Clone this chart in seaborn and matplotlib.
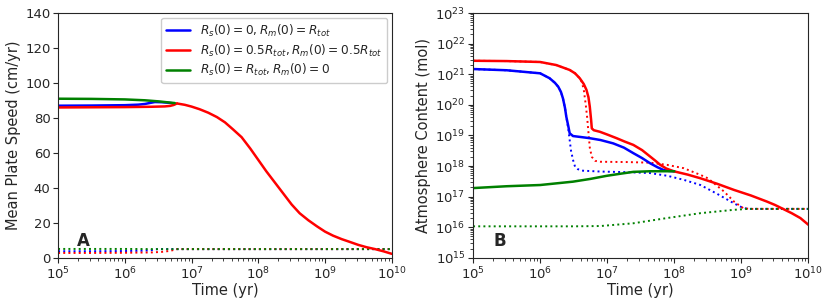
import matplotlib
matplotlib.use("Agg")
import matplotlib.pyplot as plt
import numpy as np
import pandas as pd
import seaborn as sns

# --- panel A: mean plate speed (cm/yr), log10(time) vs value ---
common_t = [6.78, 6.9, 7.0, 7.12, 7.25, 7.38, 7.5, 7.62, 7.75, 7.88, 8.0, 8.12, 8.25, 8.38,
            8.5, 8.62, 8.75, 8.88, 9.0, 9.12, 9.25, 9.38, 9.5, 9.62, 9.75, 9.88, 10.0]
common_v = [88.3, 87.5, 86.5, 85.0, 83.0, 80.5, 77.5, 73.5, 69.0, 62.5, 56.0, 49.5, 43.0, 36.5,
            30.5, 25.5, 21.5, 18.0, 15.0, 12.7, 10.7, 9.0, 7.4, 6.1, 5.0, 3.7, 2.3]

blue_speed_t = [5.0, 5.5, 6.0, 6.2, 6.3, 6.38, 6.45, 6.55, 6.65, 6.72]
blue_speed_v = [87.0, 87.1, 87.3, 87.6, 88.0, 88.6, 89.1, 89.0, 88.7, 88.4]
red_speed_t = [5.0, 5.5, 6.0, 6.4, 6.6, 6.68, 6.73, 6.76, 6.78]
red_speed_v = [86.0, 86.1, 86.2, 86.4, 86.6, 86.9, 87.4, 87.9, 88.3]
green_speed_t = [5.0, 5.5, 6.0, 6.3, 6.5, 6.65, 6.75]
green_speed_v = [91.0, 90.9, 90.6, 90.1, 89.5, 88.9, 88.5]

blue_dot_speed_t = [5.0, 5.5, 6.0, 6.3, 6.4, 6.45, 6.5, 10.0]
blue_dot_speed_v = [3.8, 3.8, 3.9, 4.1, 4.4, 4.8, 5.0, 5.0]
red_dot_speed_t = [5.0, 5.5, 6.0, 6.4, 6.55, 6.68, 6.78, 10.0]
red_dot_speed_v = [2.8, 2.8, 2.9, 3.1, 3.4, 4.0, 5.0, 5.0]
green_dot_speed_t = [5.0, 6.0, 6.5, 10.0]
green_dot_speed_v = [5.1, 5.1, 5.0, 5.0]

# --- panel B: atmosphere content, log10(time) vs log10(mol) ---
red_atm_t = [5.0, 5.5, 6.0, 6.24, 6.44, 6.52, 6.59, 6.65, 6.69, 6.72, 6.74, 6.76, 6.77, 6.8,
             6.89, 7.0, 7.14, 7.26, 7.39, 7.52, 7.64, 7.72, 7.79, 7.88, 7.99, 8.2, 8.39,
             8.64, 8.89, 9.14, 9.38, 9.5, 9.63, 9.75, 9.88, 10.0]
red_atm_v = [21.44, 21.43, 21.40, 21.30, 21.14, 21.03, 20.87, 20.68, 20.49, 20.25, 19.94, 19.5,
             19.23, 19.17, 19.12, 19.03, 18.91, 18.8, 18.69, 18.52, 18.31, 18.17, 18.04, 17.92,
             17.83, 17.72, 17.60, 17.42, 17.22, 17.04, 16.84, 16.73, 16.59, 16.46, 16.30, 16.08]
blue_atm_t = [5.0, 5.5, 6.0, 6.14, 6.22, 6.27, 6.31, 6.34, 6.37, 6.39, 6.42, 6.44, 6.49, 6.6,
              6.74, 6.9, 7.09, 7.25, 7.39, 7.52, 7.64, 7.75, 7.84, 7.92, 8.0]
blue_atm_v = [21.17, 21.13, 21.03, 20.87, 20.72, 20.59, 20.42, 20.21, 19.9, 19.61, 19.3, 19.07,
              18.98, 18.95, 18.91, 18.85, 18.74, 18.6, 18.42, 18.26, 18.09, 17.96, 17.87,
              17.84, 17.83]
green_atm_t = [5.0, 5.5, 6.0, 6.49, 6.75, 6.99, 7.2, 7.39, 7.64, 7.89, 8.0]
green_atm_v = [17.28, 17.34, 17.38, 17.49, 17.58, 17.68, 17.75, 17.81, 17.83, 17.83, 17.83]

blue_dot_atm_t = [5.0, 5.5, 6.0, 6.14, 6.22, 6.27, 6.31, 6.34, 6.37, 6.39, 6.42, 6.44, 6.46,
                  6.49, 6.52, 6.56, 6.62, 6.9, 7.3, 7.64, 7.9, 8.14, 8.39, 8.64, 8.89, 9.0,
                  9.09, 10.0]
blue_dot_atm_v = [21.17, 21.13, 21.03, 20.87, 20.72, 20.59, 20.42, 20.21, 19.9, 19.61, 19.2,
                  18.85, 18.5, 18.2, 17.98, 17.9, 17.85, 17.82, 17.8, 17.77, 17.68, 17.55,
                  17.38, 17.09, 16.78, 16.66, 16.6, 16.6]
red_dot_atm_t = [5.0, 5.5, 6.0, 6.24, 6.44, 6.52, 6.59, 6.62, 6.65, 6.68, 6.7, 6.72, 6.74,
                 6.77, 6.82, 6.9, 7.3, 7.64, 7.89, 8.14, 8.39, 8.5, 8.59, 8.74, 8.89, 9.03,
                 9.13, 10.0]
red_dot_atm_v = [21.44, 21.43, 21.40, 21.30, 21.14, 21.03, 20.87, 20.75, 20.5, 20.0, 19.6,
                 19.1, 18.6, 18.3, 18.17, 18.14, 18.13, 18.11, 18.04, 17.93, 17.71, 17.6,
                 17.44, 17.17, 16.84, 16.62, 16.6, 16.6]
green_dot_atm_t = [5.0, 6.0, 6.5, 6.9, 7.39, 7.89, 8.39, 8.89, 9.1, 10.0]
green_dot_atm_v = [16.03, 16.03, 16.03, 16.04, 16.13, 16.30, 16.46, 16.57, 16.6, 16.6]

labels = [r"$R_s(0)=0, R_m(0)=R_{tot}$",
          r"$R_s(0)=0.5R_{tot}, R_m(0)=0.5R_{tot}$",
          r"$R_s(0)=R_{tot}, R_m(0)=0$"]
colors = ["blue", "red", "green"]


def frame(t, v, log_y=False):
    t = np.asarray(t, dtype=float)
    v = np.asarray(v, dtype=float)
    return pd.DataFrame({"t": 10 ** t, "v": 10 ** v if log_y else v})


sns.set_style("ticks")
plt.rcParams["font.family"] = ["DejaVu Sans"]
plt.rcParams["mathtext.fontset"] = "dejavusans"

fig = plt.figure(figsize=(8.3, 3.03), dpi=100)
ax1 = fig.add_axes([0.070, 0.149, 0.402, 0.808])
ax2 = fig.add_axes([0.570, 0.149, 0.404, 0.808])

for ax in (ax1, ax2):
    ax.set_xscale("log")
ax2.set_yscale("log")

# panel A
speed_solid = [(blue_speed_t, blue_speed_v), (red_speed_t, red_speed_v), (green_speed_t, green_speed_v)]
speed_dot = [(blue_dot_speed_t, blue_dot_speed_v), (red_dot_speed_t, red_dot_speed_v),
             (green_dot_speed_t, green_dot_speed_v)]
for (t, v), c in zip(speed_dot, colors):
    sns.lineplot(data=frame(t, v), x="t", y="v", color=c, lw=1.4, ls=":", ax=ax1, sort=False)
for (t, v), c, lab in zip(speed_solid, colors, labels):
    sns.lineplot(data=frame(t, v), x="t", y="v", color=c, lw=1.8, ax=ax1, label=lab, sort=False)
sns.lineplot(data=frame(common_t, common_v), x="t", y="v", color="red", lw=1.8, ax=ax1, sort=False)

ax1.set_xlim(1e5, 1e10)
ax1.set_ylim(0, 140)
ax1.set_xlabel("Time (yr)", fontsize=10.5, labelpad=1)
ax1.set_ylabel("Mean Plate Speed (cm/yr)", fontsize=10.5, labelpad=3)
ax1.text(0.055, 0.05, "A", transform=ax1.transAxes, fontsize=12, fontweight="bold")
ax1.legend(loc="upper right", fontsize=8.7, handlelength=2.0, labelspacing=0.3,
           borderaxespad=0.4, framealpha=1.0)

# panel B
atm_dot = [(blue_dot_atm_t, blue_dot_atm_v), (red_dot_atm_t, red_dot_atm_v),
           (green_dot_atm_t, green_dot_atm_v)]
atm_solid = [(blue_atm_t, blue_atm_v), (red_atm_t, red_atm_v), (green_atm_t, green_atm_v)]
for (t, v), c in zip(atm_dot, colors):
    sns.lineplot(data=frame(t, v, True), x="t", y="v", color=c, lw=1.4, ls=":", ax=ax2, sort=False)
for (t, v), c in zip(atm_solid, colors):
    sns.lineplot(data=frame(t, v, True), x="t", y="v", color=c, lw=1.8, ax=ax2, sort=False)

ax2.set_xlim(1e5, 1e10)
ax2.set_ylim(1e15, 1e23)
ax2.set_xlabel("Time (yr)", fontsize=10.5, labelpad=1)
ax2.set_ylabel("Atmosphere Content (mol)", fontsize=10.5, labelpad=3)
ax2.text(0.06, 0.05, "B", transform=ax2.transAxes, fontsize=12, fontweight="bold")
ax2.yaxis.set_major_locator(matplotlib.ticker.LogLocator(base=10, numticks=12))
ax2.yaxis.set_minor_locator(matplotlib.ticker.LogLocator(base=10, subs=np.arange(2, 10), numticks=12))

for ax in (ax1, ax2):
    ax.tick_params(labelsize=9.5, pad=2)
    for s in ax.spines.values():
        s.set_linewidth(0.8)

fig.savefig("out.png", dpi=100)
